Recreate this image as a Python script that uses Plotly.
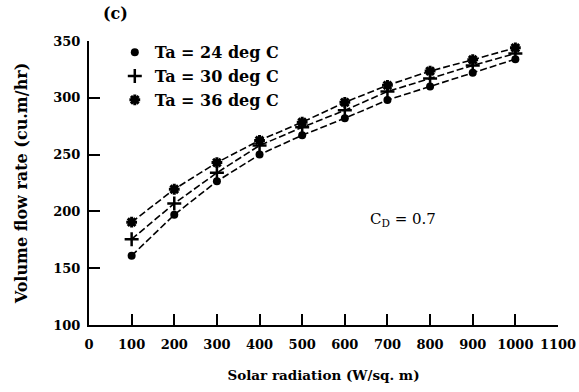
import plotly.graph_objects as go

radiation = [100, 200, 300, 400, 500, 600, 700, 800, 900, 1000]
flow_24 = [161, 197, 226.5, 250, 267, 282, 298, 310, 322, 334]
flow_30 = [175.5, 207, 234, 258, 274, 289, 305.5, 317, 328.5, 339]
flow_36 = [190.5, 219.5, 243, 262.5, 278.5, 296, 311, 323.5, 333.5, 344]

series = [
    ("Ta = 24 deg C", flow_24, dict(symbol="circle", size=8, color="black")),
    ("Ta = 30 deg C", flow_30, dict(symbol="cross-thin", size=10, color="black",
                                   line=dict(width=2.5, color="black"))),
    ("Ta = 36 deg C", flow_36, dict(symbol="asterisk", size=9, color="black",
                                   line=dict(width=3, color="black"))),
]

x_ticks = [0, 100, 200, 300, 400, 500, 600, 700, 800, 900, 1000, 1100]
y_ticks = [100, 150, 200, 250, 300, 350]

fig = go.Figure()
for name, vals, mk in series:
    fig.add_trace(go.Scatter(x=radiation, y=vals, mode="lines",
                             line=dict(color="black", width=1.6, dash="7px,3px"),
                             showlegend=False, hoverinfo="skip"))
for name, vals, mk in series:
    fig.add_trace(go.Scatter(x=radiation, y=vals, mode="markers", marker=mk,
                             name=name))

serif = "DejaVu Serif"
fig.update_layout(
    width=579, height=392,
    margin=dict(l=89, r=21, t=41, b=67, autoexpand=False),
    paper_bgcolor="white", plot_bgcolor="white",
    font=dict(family=serif, size=14, color="black"),
    showlegend=True,
    legend=dict(x=0.055, y=1.02, xanchor="left", yanchor="top",
                bgcolor="rgba(0,0,0,0)", font=dict(family=serif, size=16, weight="bold"),
                itemwidth=30, tracegroupgap=0),
    xaxis=dict(range=[0, 1100], tickvals=x_ticks, ticks="inside", ticklen=11,
               tickwidth=1.5, tickcolor="black", showline=True, linecolor="black",
               linewidth=2, showgrid=False, zeroline=False, ticklabelstandoff=6,
               automargin=False,
               tickfont=dict(family=serif, size=13, weight="bold"),
               title=dict(text="Solar radiation (W/sq. m)", standoff=20,
                          font=dict(family=serif, size=13.5, weight="bold"))),
    yaxis=dict(range=[100, 350], tickvals=y_ticks, ticks="inside", ticklen=11,
               tickwidth=1.5, tickcolor="black", showline=True, linecolor="black",
               linewidth=2, showgrid=False, zeroline=False, ticklabelstandoff=4,
               automargin=False,
               tickfont=dict(family=serif, size=13, weight="bold"),
               title=dict(text="Volume flow rate (cu.m/hr)", standoff=22,
                          font=dict(family=serif, size=16, weight="bold"))),
    annotations=[
        dict(text="C<sub>D</sub> = 0.7", x=655, y=193, xref="x", yref="y",
             xanchor="left", yanchor="middle", showarrow=False,
             font=dict(family=serif, size=15)),
        dict(text="(c)", x=0.025, y=1.055, xref="paper", yref="paper",
             xanchor="left", yanchor="bottom", showarrow=False,
             font=dict(family=serif, size=16, weight="bold")),
    ],
)

fig.write_html("out.html")
